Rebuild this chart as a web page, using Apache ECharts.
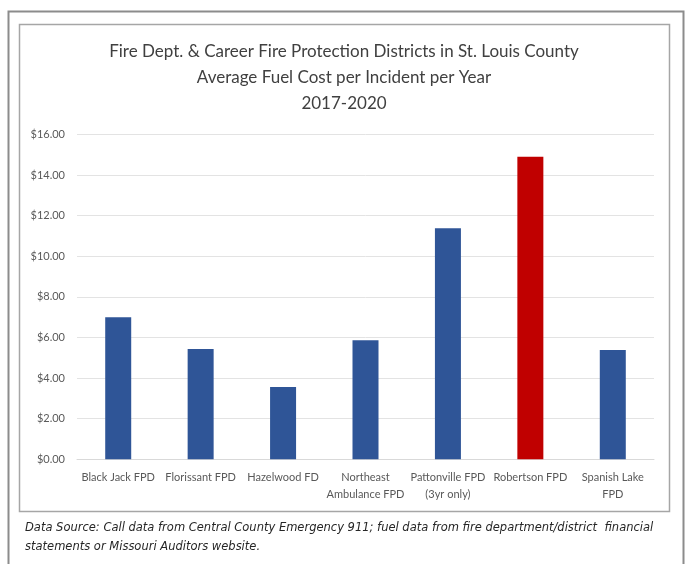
<!DOCTYPE html>
<html>
<head>
<meta charset="utf-8">
<script src="https://cdn.jsdelivr.net/npm/echarts@6/dist/echarts.min.js"></script>
<style>html,body{margin:0;padding:0;background:#fff;}#c{width:688px;height:564px;}</style>
</head>
<body>
<div id="c"></div>
<script>
const categories = ['Black Jack FPD', 'Florissant FPD', 'Hazelwood FD', 'Northeast\nAmbulance FPD', 'Pattonville FPD\n(3yr only)', 'Robertson FPD', 'Spanish Lake\nFPD'];
const values = [7.00, 5.43, 3.56, 5.86, 11.38, 14.90, 5.38];
const highlight = 'Robertson FPD';
const yTicks = {min: 0, max: 16, interval: 2};
const titleLines = ['Fire Dept. & Career Fire Protection Districts in St. Louis County', 'Average Fuel Cost per Incident per Year', '2017-2020'];
const footnote = ['Data Source: Call data from Central County Emergency 911; fuel data from fire department/district  financial', 'statements or Missouri Auditors website.'];

const chart = echarts.init(document.getElementById('c'));
chart.setOption({
  animation: false,
  backgroundColor: '#fff',
  title: {
    text: titleLines.join('\n'),
    left: 'center',
    top: 34,
    textStyle: {fontFamily: 'Lato', fontWeight: 'normal', fontSize: 17, lineHeight: 26, color: '#404040'}
  },
  grid: {left: 77, right: 34, top: 134.5, bottom: 104.7},
  xAxis: {
    type: 'category',
    data: categories,
    axisLine: {lineStyle: {color: '#d9d9d9'}},
    axisTick: {show: false},
    axisLabel: {fontFamily: 'Lato', fontSize: 11, color: '#595959', lineHeight: 17, margin: 10, interval: 0}
  },
  yAxis: {
    type: 'value',
    min: yTicks.min, max: yTicks.max, interval: yTicks.interval,
    axisLine: {show: false},
    axisTick: {show: false},
    splitLine: {lineStyle: {color: '#e3e3e3'}},
    axisLabel: {fontFamily: 'Lato', fontSize: 11, color: '#595959', margin: 12, formatter: v => '$' + v.toFixed(2)}
  },
  series: [{
    type: 'bar',
    barWidth: 26,
    data: values.map((v, i) => categories[i] === highlight ? {value: v, itemStyle: {color: '#C00000'}} : v),
    itemStyle: {color: '#2F5597'}
  }],
  graphic: [
    {type: 'rect', shape: {x: 8.5, y: 11.5, width: 675, height: 560}, style: {fill: 'none', stroke: '#8c8c8c', lineWidth: 2}, silent: true},
    {type: 'rect', shape: {x: 19.5, y: 24.5, width: 650, height: 487}, style: {fill: 'none', stroke: '#a6a6a6', lineWidth: 1.5}, silent: true},
    {type: 'text', left: 25, top: 519, style: {text: footnote.join('\n'), fontFamily: 'DejaVu Sans', fontStyle: 'italic', fontSize: 11.5, lineHeight: 19, fill: '#262626'}}
  ]
});
</script>
</body>
</html>
